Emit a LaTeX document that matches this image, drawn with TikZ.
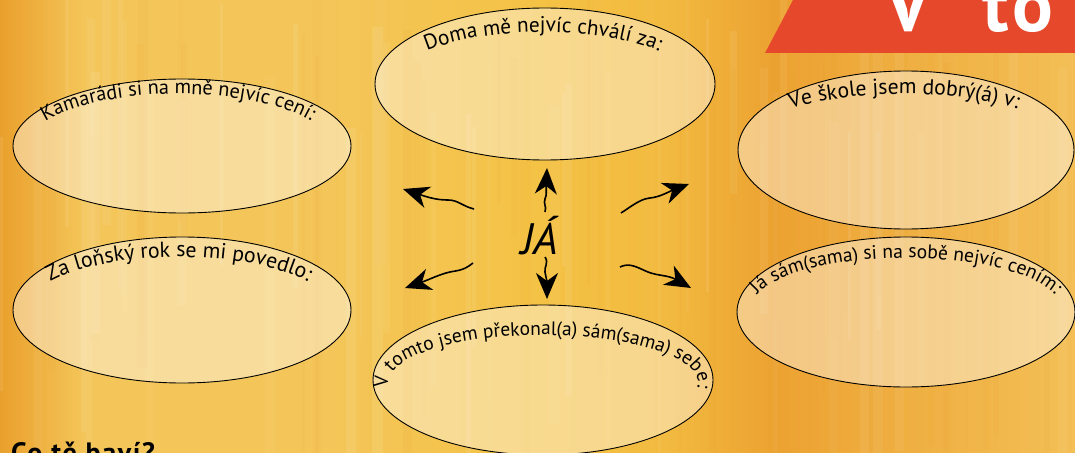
\documentclass[tikz,border=0pt]{standalone}
\usepackage{fontspec}
\setmainfont{PT Sans}
\usetikzlibrary{decorations.text, arrows.meta, shapes.geometric}
\definecolor{bgA}{HTML}{EAA02C}
\definecolor{bgB}{HTML}{F4C65A}
\definecolor{bgC}{HTML}{F4C245}
\definecolor{bgD}{HTML}{F2BA40}
\definecolor{bgE}{HTML}{ECA231}
\definecolor{bgF}{HTML}{F3BF56}
\definecolor{streak}{HTML}{E89A28}
\definecolor{redc}{HTML}{E6482B}
\pgfdeclarehorizontalshading{bgshade}{100bp}{color(0bp)=(bgA); color(25bp)=(bgA); color(29bp)=(bgB); color(40bp)=(bgB); color(50bp)=(bgC); color(56bp)=(bgD); color(61bp)=(bgE); color(75bp)=(bgF); color(100bp)=(bgF)}
\newcommand{\arctext}[8]{%
  \path[decorate, decoration={text along path, text align=center,
    text={|\fontsize{#8}{#8}\selectfont|#7}}]
    ([shift={(#5:#3 and #4)}]#1,#2) arc[start angle=#5, end angle=#6, x radius=#3, y radius=#4];}
\begin{document}
\begin{tikzpicture}[x=1pt, y=-1pt,
  bubble/.style={ellipse, draw=black, line width=0.9pt, fill=white, fill opacity=0.4, inner sep=0pt},
  wavy/.style={line width=1.6pt, -{Stealth[length=26pt, width=22pt, inset=8pt]}}]
\useasboundingbox (0,0) rectangle (1075,452);
\clip (0,0) rectangle (1075,452);
% background
\shade[shading=bgshade] (0,0) rectangle (1075,452);
\pgfmathsetseed{7}
\foreach \i in {1,...,90}{%
  \pgfmathsetmacro{\xx}{rnd*1075}%
  \pgfmathsetmacro{\ww}{2+rnd*9}%
  \pgfmathsetmacro{\oo}{0.03+rnd*0.06}%
  \pgfmathsetmacro{\yy}{rnd*200-60}%
  \pgfmathsetmacro{\hh}{150+rnd*400}%
  \ifodd\i
    \fill[white, opacity=\oo] (\xx,\yy) rectangle ++(\ww,\hh);
  \else
    \fill[streak, opacity=\oo] (\xx,\yy) rectangle ++(\ww,\hh);
  \fi}
% title band
\fill[redc] (765,53) -- (793,0) -- (1075,0) -- (1075,53) -- cycle;
\node[anchor=base west, inner sep=0pt, text=white, font=\bfseries\fontsize{76}{76}\selectfont] (v) at (885,32) {V};
\node[anchor=base west, inner sep=0pt, text=white, font=\bfseries\fontsize{76}{76}\selectfont\addfontfeature{LetterSpace=6}] (to) at (982,32) {to};
\node[anchor=base west, inner sep=0pt, font=\bfseries\fontsize{28}{28}\selectfont\addfontfeature{LetterSpace=6}] (co) at (11,462) {Co tě baví?};
% ellipses
\node[bubble, minimum width=338pt, minimum height=134pt] (e1) at (182,146) {};
\node[bubble, minimum width=340pt, minimum height=152pt] (e2) at (545,84) {};
\node[bubble, minimum width=336pt, minimum height=158pt] (e3) at (906,150) {};
\node[bubble, minimum width=338pt, minimum height=146pt] (e4) at (182,310) {};
\node[bubble, minimum width=340pt, minimum height=150pt] (e5) at (543,380) {};
\node[bubble, minimum width=338pt, minimum height=150pt] (e6) at (906,312) {};
% curved labels
\arctext{178}{146}{151}{52}{190}{350}{Kamarádi si na mně nejvíc cení:}{20.3}
\arctext{543}{84}{150}{52}{195}{345}{Doma mě nejvíc chválí za:}{21.3}
\arctext{904}{145}{161}{51}{200}{340}{Ve škole jsem dobrý(á) v:}{21.7}
\arctext{179}{310}{152}{53}{190}{350}{Za loňský rok se mi povedlo:}{21.8}
\arctext{543}{383}{155}{48}{150}{390}{V tomto jsem překonal(a) sám(sama) sebe:}{19.5}
\arctext{906}{308}{154}{50}{150}{390}{Já sám(sama) si na sobě nejvíc cením:}{19.6}
% centre
\node[inner sep=0pt, font=\itshape\fontsize{44}{44}\selectfont] (ja) at (540,236) {JÁ};
\coordinate (su) at (545,212); \coordinate (tu) at (547,168);
\coordinate (sd) at (545,257); \coordinate (td) at (547,299);
\coordinate (sul) at (474,209); \coordinate (tul) at (403,189);
\coordinate (sur) at (621,213); \coordinate (tur) at (689,184);
\coordinate (sll) at (473,263); \coordinate (tll) at (405,288);
\coordinate (slr) at (620,267); \coordinate (tlr) at (691,288);
\draw[wavy] (su) .. controls (547,206) and (543,204) .. (545,199)
  .. controls (547,195) and (546,190) .. (tu);
\draw[wavy] (sd) .. controls (549,263) and (544,267) .. (545,272)
  .. controls (546,277) and (547,282) .. (td);
\draw[wavy] (sul) .. controls (462,206) and (458,200) .. (448,200)
  .. controls (438,200) and (430,198) .. (tul);
\draw[wavy] (sur) .. controls (632,206) and (640,199) .. (650,198)
  .. controls (660,197) and (668,192) .. (tur);
\draw[wavy] (sll) .. controls (462,272) and (456,270) .. (446,273)
  .. controls (436,276) and (428,280) .. (tll);
\draw[wavy] (slr) .. controls (630,262) and (638,268) .. (648,272)
  .. controls (658,276) and (668,275) .. (tlr);
\end{tikzpicture}
\end{document}
